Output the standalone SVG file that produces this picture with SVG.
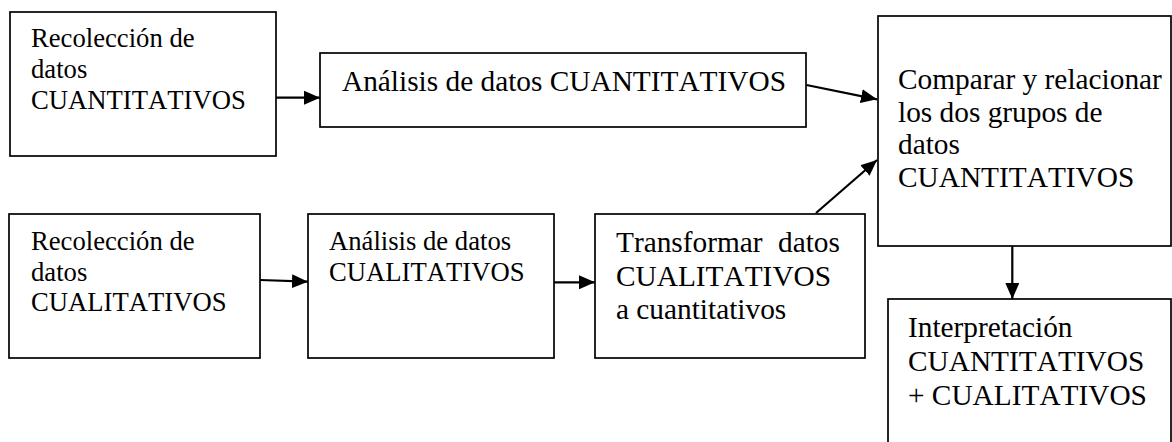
<svg xmlns="http://www.w3.org/2000/svg" width="1172" height="442" viewBox="0 0 1172 442">
  <style>
    .box { fill: #ffffff; stroke: #000000; stroke-width: 1.7; }
    .t20 { font-family: "Liberation Serif", "Times New Roman", serif; font-size: 26.67px; fill: #000000; font-kerning: none; }
    .t22 { font-family: "Liberation Serif", "Times New Roman", serif; font-size: 29.33px; fill: #000000; font-kerning: none; }
    .conn { stroke: #000000; stroke-width: 2.2; fill: none; marker-end: url(#arrow); }
  </style>
  <defs>
    <marker id="arrow" markerUnits="userSpaceOnUse" markerWidth="16" markerHeight="14" refX="16" refY="7" orient="auto">
      <path d="M0,0 L16,7 L0,14 Z" fill="#000000"/>
    </marker>
  </defs>
  <rect width="1172" height="442" fill="#ffffff"/>

  <g id="node-recoleccion-cuanti">
    <rect class="box" x="10" y="12" width="266" height="144"/>
    <text class="t20" x="31" y="47">Recolección de</text>
    <text class="t20" x="31" y="78">datos</text>
    <text class="t20" x="31" y="109">CUANTITATIVOS</text>
  </g>

  <g id="node-analisis-cuanti">
    <rect class="box" x="320" y="53" width="486" height="74"/>
    <text class="t22" x="342" y="91">Análisis de datos CUANTITATIVOS</text>
  </g>

  <g id="node-comparar">
    <rect class="box" x="878" y="16" width="293" height="230"/>
    <text class="t22" x="898" y="89">Comparar y relacionar</text>
    <text class="t22" x="898" y="121.5">los dos grupos de</text>
    <text class="t22" x="898" y="154">datos</text>
    <text class="t22" x="898" y="187">CUANTITATIVOS</text>
  </g>

  <g id="node-recoleccion-cuali">
    <rect class="box" x="9" y="214" width="251" height="144"/>
    <text class="t20" x="31" y="250">Recolección de</text>
    <text class="t20" x="31" y="281">datos</text>
    <text class="t20" x="31" y="311">CUALITATIVOS</text>
  </g>

  <g id="node-analisis-cuali">
    <rect class="box" x="308" y="214" width="246" height="144"/>
    <text class="t20" x="329" y="249.5">Análisis de datos</text>
    <text class="t20" x="329" y="281">CUALITATIVOS</text>
  </g>

  <g id="node-transformar">
    <rect class="box" x="595" y="214" width="270" height="144"/>
    <text class="t22" y="252"><tspan x="616">Transformar</tspan><tspan x="778">datos</tspan></text>
    <text class="t22" x="616" y="285.5">CUALITATIVOS</text>
    <text class="t22" x="616" y="319">a cuantitativos</text>
  </g>

  <g id="node-interpretacion">
    <rect class="box" x="888" y="299" width="283" height="160"/>
    <text class="t22" x="908" y="337">Interpretación</text>
    <text class="t22" x="908" y="370.5">CUANTITATIVOS</text>
    <text class="t22" x="908" y="404.5">+ CUALITATIVOS</text>
  </g>

  <g id="connectors">
    <line class="conn" x1="276" y1="97.7" x2="320" y2="97.7"/>
    <line class="conn" x1="806.5" y1="85" x2="877" y2="99.3"/>
    <line class="conn" x1="816" y1="213" x2="877" y2="160"/>
    <line class="conn" x1="260" y1="280" x2="308" y2="281.7"/>
    <line class="conn" x1="554" y1="282.3" x2="595" y2="282.3"/>
    <line class="conn" x1="1012.3" y1="246" x2="1012.3" y2="299"/>
  </g>
</svg>
